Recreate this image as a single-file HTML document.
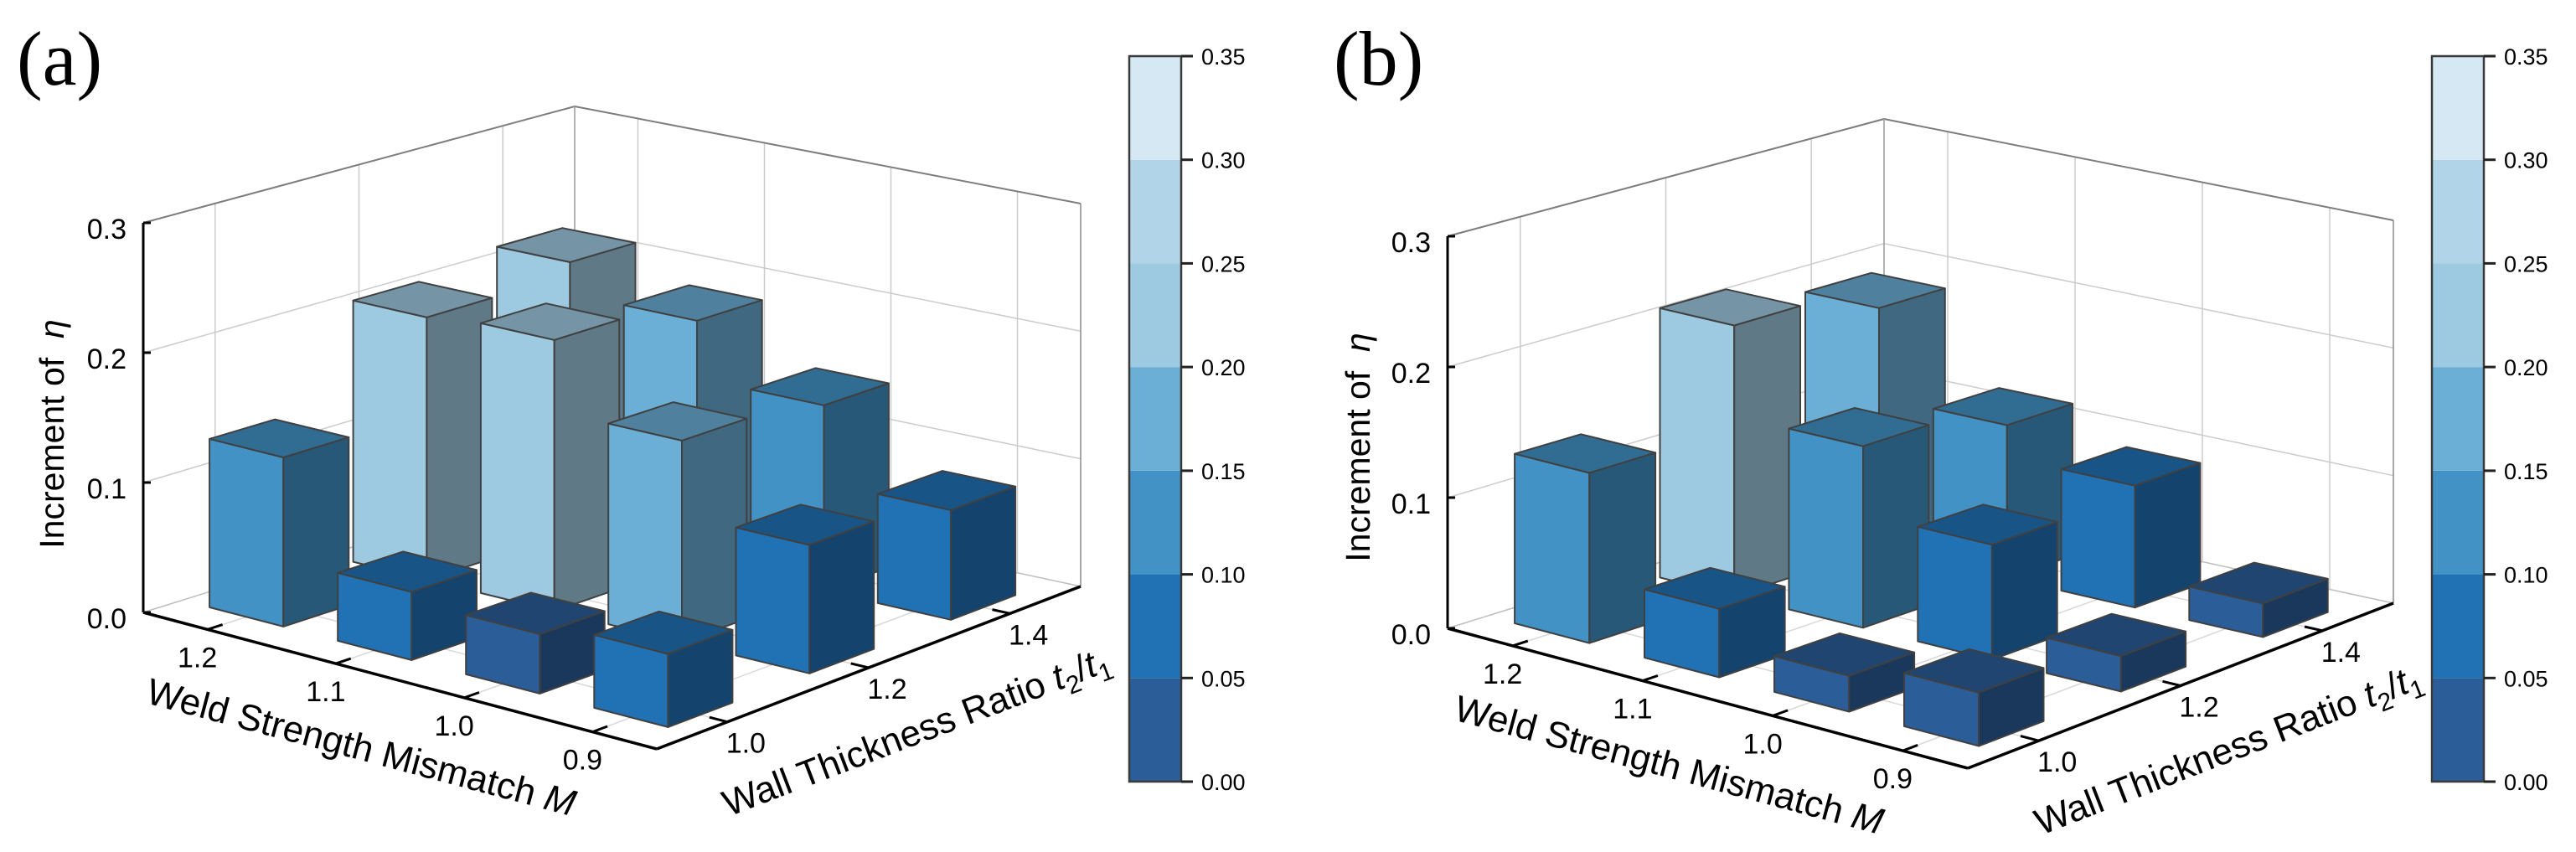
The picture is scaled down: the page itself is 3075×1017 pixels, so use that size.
<!DOCTYPE html>
<html>
<head>
<meta charset="utf-8">
<style>
html,body{margin:0;padding:0;background:#fff;}
svg{display:block;font-family:"Liberation Sans",Arial,sans-serif;}
</style>
</head>
<body>
<svg id="chart" width="3075" height="1017" viewBox="0 0 3075 1017" xmlns="http://www.w3.org/2000/svg"></svg>
<script>
// ---- data ----
const mLabels = ['1.2', '1.1', '1.0', '0.9'];
const tLabels = ['1.0', '1.2', '1.4'];
const zTicks = [0.0, 0.1, 0.2, 0.3];
const zTickLabels = ['0.0', '0.1', '0.2', '0.3'];
const cbTicks = [0.00, 0.05, 0.10, 0.15, 0.20, 0.25, 0.30, 0.35];
const cbTickLabels = ['0.00', '0.05', '0.10', '0.15', '0.20', '0.25', '0.30', '0.35'];
const cbColors = ['#2b5d98', '#2171b5', '#4292c6', '#6baed6', '#9ecae1', '#b2d4e9', '#d5e8f3'];
// panel (a): rows = M (1.2,1.1,1.0,0.9), cols = t2/t1 (1.0,1.2,1.4)
const aM12 = [0.130, 0.205, 0.215];
const aM11 = [0.052, 0.210, 0.190];
const aM10 = [0.045, 0.155, 0.145];
const aM09 = [0.055, 0.098, 0.085];
// panel (b)
const bM12 = [0.130, 0.210, 0.190];
const bM11 = [0.052, 0.140, 0.120];
const bM10 = [0.027, 0.088, 0.095];
const bM09 = [0.040, 0.027, 0.026];

const NS = 'http://www.w3.org/2000/svg';
const svg = document.getElementById('chart');
function el(tag, parent) { const e = document.createElementNS(NS, tag); parent.appendChild(e); return e; }

const panels = [
  { id: 'a', rows: [aM12, aM11, aM10, aM09], L: [171, 731], F: [784, 894], B: [686, 570], R: [1290, 700], h: [465, 480, 443, 457],
    cbX: 1348, label: '(a)', labelX: 20, zTitle: [61, 518] },
  { id: 'b', rows: [bM12, bM11, bM10, bM09], L: [1728, 750], F: [2349, 917], B: [2249, 588], R: [2857, 720], h: [468, 482, 446, 457],
    cbX: 2903, label: '(b)', labelX: 1592, zTitle: [1620, 534] }
];

function proj(p, u, v, z) {
  const w = [(1 - u) * (1 - v), u * (1 - v), (1 - u) * v, u * v];
  const C = [p.L, p.F, p.B, p.R];
  let x = 0, y = 0, h = 0;
  for (let k = 0; k < 4; k++) { x += w[k] * C[k][0]; y += w[k] * C[k][1]; h += w[k] * p.h[k]; }
  return [x, y - z / 0.3 * h];
}
function line(g, a, b, color, wdt) {
  const l = el('line', g);
  l.setAttribute('x1', a[0].toFixed(1)); l.setAttribute('y1', a[1].toFixed(1));
  l.setAttribute('x2', b[0].toFixed(1)); l.setAttribute('y2', b[1].toFixed(1));
  l.setAttribute('stroke', color); l.setAttribute('stroke-width', wdt);
  return l;
}
function shade(hex, f) {
  const n = parseInt(hex.slice(1), 16);
  const r = Math.round(((n >> 16) & 255) * f), g = Math.round(((n >> 8) & 255) * f), b = Math.round((n & 255) * f);
  return 'rgb(' + r + ',' + g + ',' + b + ')';
}
function colorFor(v) { return cbColors[Math.max(0, Math.min(6, Math.floor(v / 0.05)))]; }
const uPos = i => (i + 0.5) / mLabels.length;
const vPos = j => (j + 0.5) / tLabels.length;
const DU = 0.144, DV = 0.152;

panels.forEach(p => {
  const g = el('g', svg);
  
  

  const lab = el('text', g);
  
  
  lab.setAttribute('x', p.labelX); lab.setAttribute('y', 101);
  lab.setAttribute('font-family', '"Liberation Serif", serif'); lab.setAttribute('font-size', 92);
  lab.textContent = p.label;

  const grid = el('g', g);
  
  
  const gc = '#cbcbcb';
  for (let i = 0; i < mLabels.length; i++) line(grid, proj(p, uPos(i), 0, 0), proj(p, uPos(i), 1, 0), '#d8d8d8', 1.5);
  for (let j = 0; j < tLabels.length; j++) line(grid, proj(p, 0, vPos(j), 0), proj(p, 1, vPos(j), 0), '#d8d8d8', 1.5);
  line(grid, proj(p, 0, 0, 0), proj(p, 0, 1, 0), '#bdbdbd', 1.5);
  line(grid, proj(p, 0, 1, 0), proj(p, 1, 1, 0), '#bdbdbd', 1.5);
  zTicks.forEach(z => { if (z > 0 && z < 0.3) line(grid, proj(p, 0, 0, z), proj(p, 0, 1, z), gc, 1.5); });
  for (let j = 0; j < tLabels.length; j++) line(grid, proj(p, 0, vPos(j), 0), proj(p, 0, vPos(j), 0.3), gc, 1.5);
  zTicks.forEach(z => { if (z > 0 && z < 0.3) line(grid, proj(p, 0, 1, z), proj(p, 1, 1, z), gc, 1.5); });
  for (let i = 0; i < mLabels.length; i++) line(grid, proj(p, uPos(i), 1, 0), proj(p, uPos(i), 1, 0.3), gc, 1.5);
  line(grid, proj(p, 0, 0, 0.3), proj(p, 0, 1, 0.3), '#7d7d7d', 2);
  line(grid, proj(p, 0, 1, 0.3), proj(p, 1, 1, 0.3), '#7d7d7d', 2);
  line(grid, proj(p, 0, 1, 0), proj(p, 0, 1, 0.3), '#9a9a9a', 1.5);
  line(grid, proj(p, 1, 1, 0), proj(p, 1, 1, 0.3), '#8a8a8a', 1.5);

  const bars = [];
  p.rows.forEach((row, i) => row.forEach((val, j) => bars.push({ i, j, val })));
  bars.sort((a, b) => (uPos(a.i) - vPos(a.j)) - (uPos(b.i) - vPos(b.j)));
  const barG = el('g', g);
  
  
  bars.forEach(b => {
    const u0 = uPos(b.i) - DU / 2, u1 = uPos(b.i) + DU / 2;
    const v0 = vPos(b.j) - DV / 2, v1 = vPos(b.j) + DV / 2;
    const z = b.val;
    const base = colorFor(z);
    const bg = el('g', barG);
    
    
    const faces = [
      { pts: [[u0, v0, 0], [u1, v0, 0], [u1, v0, z], [u0, v0, z]], fill: base, nm: 'front' },
      { pts: [[u1, v0, 0], [u1, v1, 0], [u1, v1, z], [u1, v0, z]], fill: shade(base, 0.6), nm: 'side' },
      { pts: [[u0, v0, z], [u1, v0, z], [u1, v1, z], [u0, v1, z]], fill: shade(base, 0.74), nm: 'top' }
    ];
    faces.forEach(f => {
      const poly = el('polygon', bg);
      
      
      poly.setAttribute('points', f.pts.map(q => proj(p, q[0], q[1], q[2]).map(n => n.toFixed(1)).join(',')).join(' '));
      poly.setAttribute('fill', f.fill);
      poly.setAttribute('stroke', '#404040'); poly.setAttribute('stroke-width', 2);
      poly.setAttribute('stroke-linejoin', 'round');
    });
  });

  const ax = el('g', g);
  
  
  line(ax, proj(p, 0, 0, 0), proj(p, 0, 0, 0.3), '#000', 3);
  line(ax, proj(p, 0, 0, 0), proj(p, 1, 0, 0), '#000', 3.5);
  line(ax, proj(p, 1, 0, 0), proj(p, 1, 1, 0), '#000', 3.5);

  zTicks.forEach((z, k) => {
    const pt = proj(p, 0, 0, z);
    line(ax, pt, [pt[0] + 9, pt[1]], '#000', 3);
    const t = el('text', ax);
    
    
    t.setAttribute('x', pt[0] - 20); t.setAttribute('y', pt[1] + 19);
    t.setAttribute('text-anchor', 'end'); t.setAttribute('font-size', 34);
    t.textContent = zTickLabels[k];
  });
  mLabels.forEach((m, i) => {
    const pt = proj(p, uPos(i), 0, 0);
    line(ax, pt, proj(p, uPos(i), 0.035, 0), '#000', 3);
    const t = el('text', ax);
    
    
    t.setAttribute('x', pt[0] - 12); t.setAttribute('y', pt[1] + 45);
    t.setAttribute('text-anchor', 'middle'); t.setAttribute('font-size', 34);
    t.textContent = m;
  });
  tLabels.forEach((tl, j) => {
    const pt = proj(p, 1, vPos(j), 0);
    line(ax, pt, proj(p, 0.965, vPos(j), 0), '#000', 3);
    const t = el('text', ax);
    
    
    t.setAttribute('x', pt[0] + 22); t.setAttribute('y', pt[1] + 37);
    t.setAttribute('text-anchor', 'middle'); t.setAttribute('font-size', 34);
    t.textContent = tl;
  });

  const zt = el('text', g);
  
  
  zt.setAttribute('transform', 'translate(' + (p.zTitle[0] + 15) + ',' + p.zTitle[1] + ') rotate(-90)');
  zt.setAttribute('text-anchor', 'middle'); zt.setAttribute('font-size', 41);
  zt.innerHTML = 'Increment of&#160;&#160;<tspan font-style="italic">η</tspan>';

  const Lp = proj(p, 0, 0, 0), Fp = proj(p, 1, 0, 0), Rp = proj(p, 1, 1, 0);
  const angM = Math.atan2(Fp[1] - Lp[1], Fp[0] - Lp[0]) * 180 / Math.PI;
  const mt = el('text', g);
  
  
  mt.setAttribute('transform', 'translate(' + ((Lp[0] + Fp[0]) / 2 - 50) + ',' + ((Lp[1] + Fp[1]) / 2 + 94) + ') rotate(' + angM.toFixed(2) + ')');
  mt.setAttribute('text-anchor', 'middle'); mt.setAttribute('font-size', 44);
  mt.innerHTML = 'Weld Strength Mismatch <tspan font-style="italic">M</tspan>';

  const angT = Math.atan2(Rp[1] - Fp[1], Rp[0] - Fp[0]) * 180 / Math.PI;
  const tt = el('text', g);
  
  
  tt.setAttribute('transform', 'translate(' + ((Fp[0] + Rp[0]) / 2 + 62) + ',' + ((Fp[1] + Rp[1]) / 2 + 90) + ') rotate(' + angT.toFixed(2) + ')');
  tt.setAttribute('text-anchor', 'middle'); tt.setAttribute('font-size', 44);
  tt.innerHTML = 'Wall Thickness Ratio <tspan font-style="italic">t</tspan><tspan font-size="30" dy="10">2</tspan><tspan dy="-10">/</tspan><tspan font-style="italic">t</tspan><tspan font-size="30" dy="10">1</tspan>';

  const cb = el('g', g);
  
  
  const cbY = v => 933 - v / 0.35 * 866;
  cbColors.forEach((c, k) => {
    const r = el('rect', cb);
    
    
    r.setAttribute('x', p.cbX); r.setAttribute('width', 62);
    r.setAttribute('y', cbY(cbTicks[k + 1])); r.setAttribute('height', cbY(cbTicks[k]) - cbY(cbTicks[k + 1]));
    r.setAttribute('fill', c);
  });
  const ob = el('rect', cb);
  
  
  ob.setAttribute('x', p.cbX); ob.setAttribute('y', cbY(0.35)); ob.setAttribute('width', 62); ob.setAttribute('height', cbY(0) - cbY(0.35));
  ob.setAttribute('fill', 'none'); ob.setAttribute('stroke', '#3a3a3a'); ob.setAttribute('stroke-width', 2.5);
  cbTicks.forEach((v, k) => {
    line(cb, [p.cbX + 62, cbY(v)], [p.cbX + 76, cbY(v)], '#222', 3);
    const t = el('text', cb);
    
    
    t.setAttribute('x', p.cbX + 86); t.setAttribute('y', cbY(v) + 10);
    t.setAttribute('font-size', 27);
    t.textContent = cbTickLabels[k];
  });
});
</script>
</body>
</html>
